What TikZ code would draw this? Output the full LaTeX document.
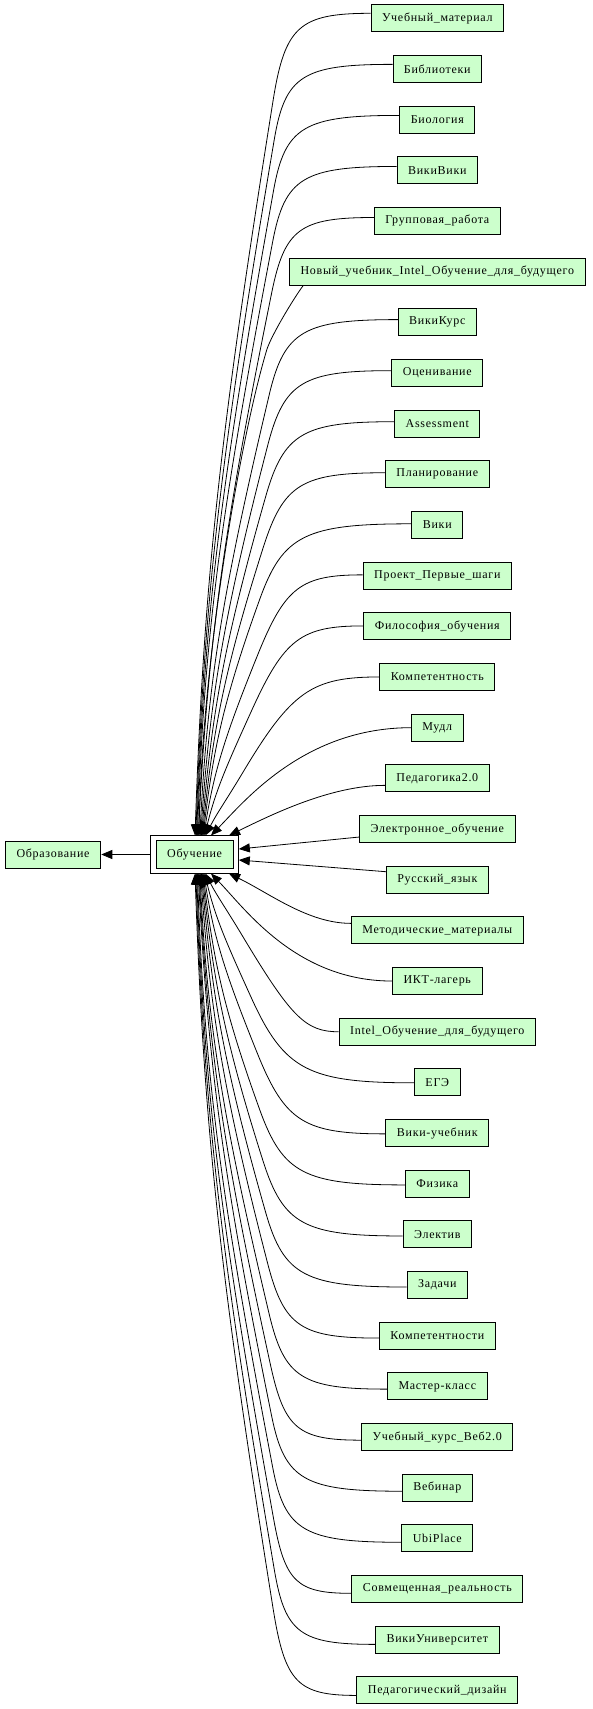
\documentclass[tikz,border=0pt]{standalone}
\usepackage{fontspec}
\setmainfont[LetterSpace=6]{Liberation Serif}
\usetikzlibrary{arrows.meta,calc}
\definecolor{nodefill}{HTML}{CCFFCC}
\begin{document}
\begin{tikzpicture}[x=1pt,y=-1pt,
  box/.style={draw=black,line width=0.9pt,fill=nodefill,minimum height=27pt,
    inner xsep=11pt,inner ysep=0pt,font=\fontsize{12}{14}\selectfont},
  edge/.style={draw=black,line width=0.8pt,-{Triangle[length=11pt,width=9pt]}}]
\useasboundingbox (0,0) rectangle (592,1709);
% left part
\node[box,minimum width=95.6pt,inner xsep=0pt] (obr) at (53,854.5) {Образование};
\node[draw=black,line width=0.9pt,fill=white,minimum width=88.4pt,minimum height=38.1pt,inner sep=0pt,outer sep=0pt] (obo) at (194.6,854.5) {};
\node[box,minimum width=76.7pt,minimum height=28pt,inner xsep=0pt] (ob) at (194.6,854.5) {Обучение};
\draw[edge] (obo.west) -- (obr.east);
% right nodes
\foreach \txt [count=\ii from 0] in {Учебный\_материал, Библиотеки, Биология, ВикиВики, Групповая\_работа, Новый\_учебник\_Intel\_Обучение\_для\_будущего, ВикиКурс, Оценивание, Assessment, Планирование, Вики, Проект\_Первые\_шаги, Философия\_обучения, Компетентность, Мудл, Педагогика2.0, Электронное\_обучение, Русский\_язык, Методические\_материалы, ИКТ-лагерь, Intel\_Обучение\_для\_будущего, ЕГЭ, Вики-учебник, Физика, Электив, Задачи, Компетентности, Мастер-класс, Учебный\_курс\_Веб2.0, Вебинар, UbiPlace, Совмещенная\_реальность, ВикиУниверситет, Педагогический\_дизайн}{
  \node[box] (n\ii) at (437.3,{18.3+50.67*\ii}) {\txt};
}
% edges
\foreach \ii in {0,...,33}{
  \pgfmathtruncatemacro\kk{\ii<17 ? \ii : 33-\ii}
  \pgfmathsetmacro\sg{\ii<17 ? 1 : -1}
  \ifnum\ii<17 \def\ea{north}\else\def\ea{south}\fi
  \ifnum\kk<14
    \ifnum\ii=5
      \coordinate (s\ii) at ($(n\ii.south west)+(14,0)$);
      \coordinate (b\ii) at (266.7,350);
      \coordinate (e\ii) at ($(obo.north)+(4.4,0)$);
      \draw[edge] (s\ii) .. controls ($(s\ii)+(-9,12)$) and ($(b\ii)+(4.4,-14.4)$) .. (b\ii)
        .. controls ($(b\ii)+(-28,94)$) and ($(e\ii)+(3,-170)$) .. (e\ii);
    \else
      \pgfmathsetmacro\off{5-0.38*\kk}
      \pgfmathsetmacro\ys{18.3+50.67*\kk-\off}
      \pgfmathsetmacro\kx{{287,287,287,287,287,287,287,287,287,287,287,290,290,300}[\kk]}
      \pgfmathsetmacro\rr{{87,75,75,75,75,75,75,75,75,75,75,80,85,95}[\kk]}
      \pgfmathsetmacro\fk{{1.5,1.5,1.5,1.5,1.5,1.5,1.5,1.5,1.5,1.5,1.5,1.35,1.2,1.0}[\kk]}
      \pgfmathsetmacro\tht{{2,2,2,2,3,3,3,4,5,6,7,9,14,28}[\kk]}
      \pgfmathsetmacro\ex{195+0.8*\kk}
      \pgfmathsetmacro\yb{\ys+\rr}
      \pgfmathsetmacro\dd{835-\yb}
      \pgfmathsetmacro\slp{\fk*(\ex-\kx)/(\dd+\fk*\rr)}
      \pgfmathsetmacro\xb{\kx+(\slp)*\rr}
      \pgfmathsetmacro\dl{veclen(\slp,1)}
      \pgfmathsetmacro\dX{(\slp)/\dl}
      \pgfmathsetmacro\dY{1/\dl}
      \pgfmathsetmacro\LL{veclen(\ex-\xb,\dd)}
      \pgfmathsetmacro\bX{\xb+0.45*\LL*(\dX)}
      \pgfmathsetmacro\bY{854.5+(\sg)*(\yb+0.45*\LL*(\dY)-854.5)}
      \pgfmathsetmacro\cX{\ex+0.35*\LL*sin(\tht)}
      \pgfmathsetmacro\cY{854.5+(\sg)*(835-0.35*\LL*cos(\tht)-854.5)}
      \pgfmathsetmacro\yB{854.5+(\sg)*(\yb-854.5)}
      \coordinate (s\ii) at ($(n\ii.west)+(0,{-1*(\sg)*(\off)})$);
      \coordinate (kx\ii) at (\kx,0);
      \coordinate (b\ii) at (\xb,\yB);
      \coordinate (e\ii) at ($(obo.\ea)+({\ex-194.6},0)$);
      \draw[edge] (s\ii) .. controls ($(s\ii)!0.85!(kx\ii |- s\ii)$) and ($(b\ii)!0.85!(kx\ii |- s\ii)$) .. (b\ii)
        .. controls (\bX,\bY) and (\cX,\cY) .. (e\ii);
    \fi
  \else\ifnum\kk=14
    \coordinate (s\ii) at (n\ii.west);
    \coordinate (e\ii) at ($(obo.\ea)+(16.4,0)$);
    \draw[edge] (s\ii) .. controls ($(s\ii)!0.53!(e\ii |- s\ii)$) and ($(e\ii)+(34,{-35*(\sg)})$) .. (e\ii);
  \else\ifnum\kk=15
    \coordinate (s\ii) at ($(n\ii.west)+(0,{7*(\sg)})$);
    \coordinate (e\ii) at ($(obo.\ea)+(34.4,0)$);
    \draw[edge] (s\ii) .. controls ($(s\ii)!0.35!(e\ii |- s\ii)$) and ($(e\ii)+(41,{-20*(\sg)})$) .. (e\ii);
  \else
    \coordinate (s\ii) at ($(n\ii.west)+(0,{8*(\sg)})$);
    \coordinate (e\ii) at ($(obo.east)+(0,{-5.5*(\sg)})$);
    \draw[edge] (s\ii) -- (e\ii);
  \fi\fi\fi
}
\end{tikzpicture}
\end{document}
